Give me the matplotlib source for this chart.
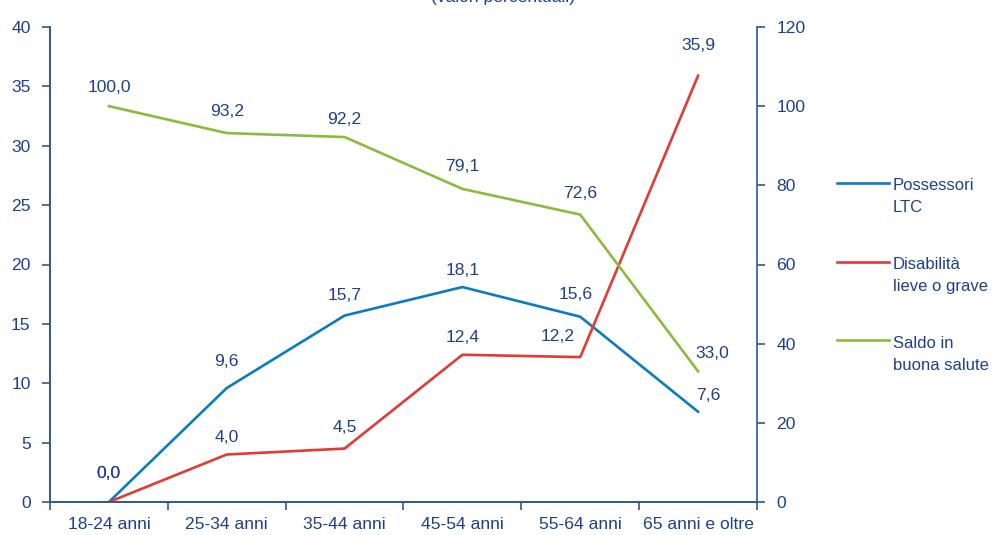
import matplotlib
matplotlib.use("Agg")
import matplotlib.pyplot as plt
from matplotlib.lines import Line2D

plt.rcParams['font.family'] = ['Liberation Sans', 'DejaVu Sans']

categories = ["18-24 anni", "25-34 anni", "35-44 anni", "45-54 anni", "55-64 anni", "65 anni e oltre"]
possessori_ltc = [0.0, 9.6, 15.7, 18.1, 15.6, 7.6]
disabilita = [0.0, 4.0, 4.5, 12.4, 12.2, 35.9]
saldo_salute = [100.0, 93.2, 92.2, 79.1, 72.6, 33.0]
left_ticks = [0, 5, 10, 15, 20, 25, 30, 35, 40]
right_ticks = [0, 20, 40, 60, 80, 100, 120]

TXT = "#1F3F8C"
SPINE = "#2C5A8A"
BLUE = "#0A7CC0"
RED = "#E03C36"
GREEN = "#8CBB3C"
FS = 12.6

fig = plt.figure(figsize=(9.95, 5.35), dpi=100)
ax = fig.add_axes([50/995, 33/535, 707/995, 475/535])
ax2 = ax.twinx()

x = list(range(len(categories)))
ax.plot(x, possessori_ltc, color=BLUE, lw=1.9, zorder=3)
ax.plot(x, disabilita, color=RED, lw=1.9, zorder=3)
ax2.plot(x, saldo_salute, color=GREEN, lw=1.9, zorder=3)

ax.set_xlim(-0.5, 5.5)
ax.set_ylim(0, 40)
ax2.set_ylim(0, 120)
ax.set_yticks(left_ticks)
ax2.set_yticks(right_ticks)

ax.set_xticks([i - 0.5 for i in range(len(categories) + 1)])
ax.set_xticklabels([])
ax.set_xticks(x, minor=True)
ax.set_xticklabels(categories, minor=True)
ax.tick_params(axis='x', which='minor', length=0, pad=11, labelsize=FS, labelcolor=TXT)
ax.tick_params(axis='x', which='major', length=6, width=1.2, color=SPINE, direction='out')
ax.tick_params(axis='y', length=6, width=1.2, color=SPINE, labelsize=FS, labelcolor=TXT, pad=8)
ax2.tick_params(axis='y', length=6, width=1.2, color=SPINE, labelsize=FS, labelcolor=TXT, pad=8)

for a in (ax, ax2):
    a.spines['top'].set_visible(False)
    for s in ('left', 'right', 'bottom'):
        a.spines[s].set_color(SPINE)
        a.spines[s].set_linewidth(1.2)
ax.spines['right'].set_visible(False)

def fmt(v):
    return f"{v:.1f}".replace(".", ",")

blue_off = [(0, 29), (0, 26), (0, 20), (0, 17), (-5, 22), (10, 16)]
red_off = [(0, 29), (0, 17), (0, 21), (0, 17), (-23, 21), (0, 30)]
green_off = [(0, 19), (0, 22), (0, 18), (0, 22), (0, 21), (14, 18)]

for xi, v, o in zip(x, possessori_ltc, blue_off):
    ax.annotate(fmt(v), (xi, v), xytext=o, textcoords='offset pixels',
                ha='center', va='center', fontsize=FS, color=TXT, zorder=5)
for xi, v, o in zip(x, disabilita, red_off):
    ax.annotate(fmt(v), (xi, v), xytext=o, textcoords='offset pixels',
                ha='center', va='center', fontsize=FS, color=TXT, zorder=5)
for xi, v, o in zip(x, saldo_salute, green_off):
    ax2.annotate(fmt(v), (xi, v), xytext=o, textcoords='offset pixels',
                 ha='center', va='center', fontsize=FS, color=TXT, zorder=5)

# legend
W, H = 995, 535
LFS = 12.0
entries = [(BLUE, ("Possessori", "LTC"), 183),
           (RED, ("Disabilità", "lieve o grave"), 262),
           (GREEN, ("Saldo in", "buona salute"), 340)]
for col, (l1, l2), yy in entries:
    fig.add_artist(Line2D([837/W, 889/W], [1 - yy/H, 1 - yy/H], color=col, lw=1.9,
                          transform=fig.transFigure))
    fig.text(893/W, 1 - (yy + 3)/H, l1, ha='left', va='center', fontsize=LFS, color=TXT)
    fig.text(893/W, 1 - (yy + 25)/H, l2, ha='left', va='center', fontsize=LFS, color=TXT)

fig.text(503/W, 1 - 2/H, "(valori percentuali)", ha='center', va='baseline',
         fontsize=FS, color=TXT)

fig.savefig("out.png", dpi=100)
